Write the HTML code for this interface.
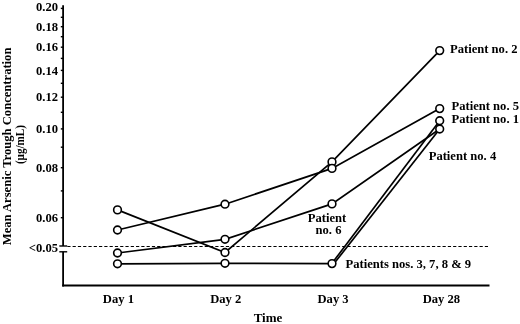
<!DOCTYPE html><html><head><meta charset="utf-8"><style>html,body{margin:0;padding:0;background:#fff;width:520px;height:324px;overflow:hidden}svg{display:block;filter:grayscale(1)}</style></head><body>
<svg width="520" height="324" viewBox="0 0 520 324">
<line x1="63.1" y1="5.2" x2="63.1" y2="246" stroke="#000" stroke-width="1.8"/>
<line x1="63.1" y1="251.8" x2="63.1" y2="286.4" stroke="#000" stroke-width="1.8"/>
<line x1="62.2" y1="285.5" x2="489.5" y2="285.5" stroke="#000" stroke-width="1.8"/>
<line x1="59.3" y1="246" x2="67.2" y2="246" stroke="#000" stroke-width="1.4"/>
<line x1="59.3" y1="251.8" x2="67.2" y2="251.8" stroke="#000" stroke-width="1.4"/>
<line x1="67.315" y1="246.5" x2="488" y2="246.5" stroke="#000" stroke-width="1.2" stroke-dasharray="3.2 2.085"/>
<line x1="60.8" y1="217.7" x2="63.1" y2="217.7" stroke="#000" stroke-width="1.4"/>
<line x1="60.8" y1="190.9" x2="63.1" y2="190.9" stroke="#000" stroke-width="1.4"/>
<line x1="60.8" y1="167.7" x2="63.1" y2="167.7" stroke="#000" stroke-width="1.4"/>
<line x1="60.8" y1="147.2" x2="63.1" y2="147.2" stroke="#000" stroke-width="1.4"/>
<line x1="60.8" y1="128.9" x2="63.1" y2="128.9" stroke="#000" stroke-width="1.4"/>
<line x1="60.8" y1="112.3" x2="63.1" y2="112.3" stroke="#000" stroke-width="1.4"/>
<line x1="60.8" y1="97.2" x2="63.1" y2="97.2" stroke="#000" stroke-width="1.4"/>
<line x1="60.8" y1="83.3" x2="63.1" y2="83.3" stroke="#000" stroke-width="1.4"/>
<line x1="60.8" y1="70.4" x2="63.1" y2="70.4" stroke="#000" stroke-width="1.4"/>
<line x1="60.8" y1="58.4" x2="63.1" y2="58.4" stroke="#000" stroke-width="1.4"/>
<line x1="60.8" y1="47.2" x2="63.1" y2="47.2" stroke="#000" stroke-width="1.4"/>
<line x1="60.8" y1="36.7" x2="63.1" y2="36.7" stroke="#000" stroke-width="1.4"/>
<line x1="60.8" y1="26.7" x2="63.1" y2="26.7" stroke="#000" stroke-width="1.4"/>
<line x1="60.8" y1="17.3" x2="63.1" y2="17.3" stroke="#000" stroke-width="1.4"/>
<line x1="60.8" y1="8.4" x2="63.1" y2="8.4" stroke="#000" stroke-width="1.4"/>
<text x="58" y="10.8" font-family="'Liberation Serif', serif" font-weight="bold" font-size="12.6" text-anchor="end">0.20</text>
<text x="58" y="30.6" font-family="'Liberation Serif', serif" font-weight="bold" font-size="12.6" text-anchor="end">0.18</text>
<text x="58" y="51.3" font-family="'Liberation Serif', serif" font-weight="bold" font-size="12.6" text-anchor="end">0.16</text>
<text x="58" y="74.5" font-family="'Liberation Serif', serif" font-weight="bold" font-size="12.6" text-anchor="end">0.14</text>
<text x="58" y="101.3" font-family="'Liberation Serif', serif" font-weight="bold" font-size="12.6" text-anchor="end">0.12</text>
<text x="58" y="133.0" font-family="'Liberation Serif', serif" font-weight="bold" font-size="12.6" text-anchor="end">0.10</text>
<text x="58" y="171.8" font-family="'Liberation Serif', serif" font-weight="bold" font-size="12.6" text-anchor="end">0.08</text>
<text x="58" y="221.8" font-family="'Liberation Serif', serif" font-weight="bold" font-size="12.6" text-anchor="end">0.06</text>
<text x="58" y="252.0" font-family="'Liberation Serif', serif" font-weight="bold" font-size="12.6" text-anchor="end">&lt;0.05</text>
<polyline points="117.5,209.9 225,252.5 332,161.9 439.7,50.6" fill="none" stroke="#000" stroke-width="1.7"/>
<polyline points="117.5,230.0 225,204.2 332,168.4 439.7,108.6" fill="none" stroke="#000" stroke-width="1.7"/>
<polyline points="117.5,253.0 225,239.3 332,203.9 439.7,129.0" fill="none" stroke="#000" stroke-width="1.7"/>
<polyline points="117.5,263.8 225,263.3 332,263.6" fill="none" stroke="#000" stroke-width="1.7"/>
<line x1="331.8" y1="263.6" x2="439.7" y2="120.7" stroke="#000" stroke-width="1.7"/>
<line x1="334.0" y1="263.6" x2="439.7" y2="129.0" stroke="#000" stroke-width="1.7"/>
<circle cx="117.5" cy="209.9" r="3.85" fill="#fff" stroke="#000" stroke-width="1.6"/>
<circle cx="117.5" cy="230.0" r="3.85" fill="#fff" stroke="#000" stroke-width="1.6"/>
<circle cx="117.5" cy="253.0" r="3.85" fill="#fff" stroke="#000" stroke-width="1.6"/>
<circle cx="117.5" cy="263.8" r="3.85" fill="#fff" stroke="#000" stroke-width="1.6"/>
<circle cx="225" cy="204.2" r="3.85" fill="#fff" stroke="#000" stroke-width="1.6"/>
<circle cx="225" cy="239.3" r="3.85" fill="#fff" stroke="#000" stroke-width="1.6"/>
<circle cx="225" cy="252.5" r="3.85" fill="#fff" stroke="#000" stroke-width="1.6"/>
<circle cx="225" cy="263.3" r="3.85" fill="#fff" stroke="#000" stroke-width="1.6"/>
<circle cx="332" cy="161.9" r="3.85" fill="#fff" stroke="#000" stroke-width="1.6"/>
<circle cx="332" cy="168.4" r="3.85" fill="#fff" stroke="#000" stroke-width="1.6"/>
<circle cx="332" cy="203.9" r="3.85" fill="#fff" stroke="#000" stroke-width="1.6"/>
<circle cx="332" cy="263.6" r="3.85" fill="#fff" stroke="#000" stroke-width="1.6"/>
<circle cx="439.7" cy="50.6" r="3.85" fill="#fff" stroke="#000" stroke-width="1.6"/>
<circle cx="439.7" cy="108.6" r="3.85" fill="#fff" stroke="#000" stroke-width="1.6"/>
<circle cx="439.7" cy="120.7" r="3.85" fill="#fff" stroke="#000" stroke-width="1.6"/>
<circle cx="439.7" cy="129.0" r="3.85" fill="#fff" stroke="#000" stroke-width="1.6"/>
<text x="118.4" y="303.2" font-family="'Liberation Serif', serif" font-weight="bold" font-size="12.6" text-anchor="middle">Day 1</text>
<text x="225.8" y="303.2" font-family="'Liberation Serif', serif" font-weight="bold" font-size="12.6" text-anchor="middle">Day 2</text>
<text x="333.1" y="303.2" font-family="'Liberation Serif', serif" font-weight="bold" font-size="12.6" text-anchor="middle">Day 3</text>
<text x="441.4" y="303.2" font-family="'Liberation Serif', serif" font-weight="bold" font-size="12.6" text-anchor="middle">Day 28</text>
<text x="268" y="321.9" font-family="'Liberation Serif', serif" font-weight="bold" font-size="13" text-anchor="middle">Time</text>
<text transform="translate(10.7,146.4) rotate(-90)" font-family="'Liberation Serif', serif" font-weight="bold" font-size="12.6" text-anchor="middle">Mean Arsenic Trough Concentration</text>
<text transform="translate(24.1,144.6) rotate(-90)" font-family="'Liberation Serif', serif" font-weight="bold" font-size="12.6" text-anchor="middle" textLength="39" lengthAdjust="spacingAndGlyphs">(μg/mL)</text>
<text x="450.0" y="53.3" font-family="'Liberation Serif', serif" font-weight="bold" font-size="12.6">Patient no. 2</text>
<text x="451.5" y="110.1" font-family="'Liberation Serif', serif" font-weight="bold" font-size="12.6">Patient no. 5</text>
<text x="451.5" y="122.7" font-family="'Liberation Serif', serif" font-weight="bold" font-size="12.6">Patient no. 1</text>
<text x="428.7" y="160.4" font-family="'Liberation Serif', serif" font-weight="bold" font-size="12.6">Patient no. 4</text>
<text x="327" y="222.3" font-family="'Liberation Serif', serif" font-weight="bold" font-size="12.6" text-anchor="middle">Patient</text>
<text x="328.5" y="233.8" font-family="'Liberation Serif', serif" font-weight="bold" font-size="12.6" text-anchor="middle">no. 6</text>
<text x="345.5" y="267.7" font-family="'Liberation Serif', serif" font-weight="bold" font-size="12.6">Patients nos. 3, 7, 8 &amp; 9</text>
</svg></body></html>
